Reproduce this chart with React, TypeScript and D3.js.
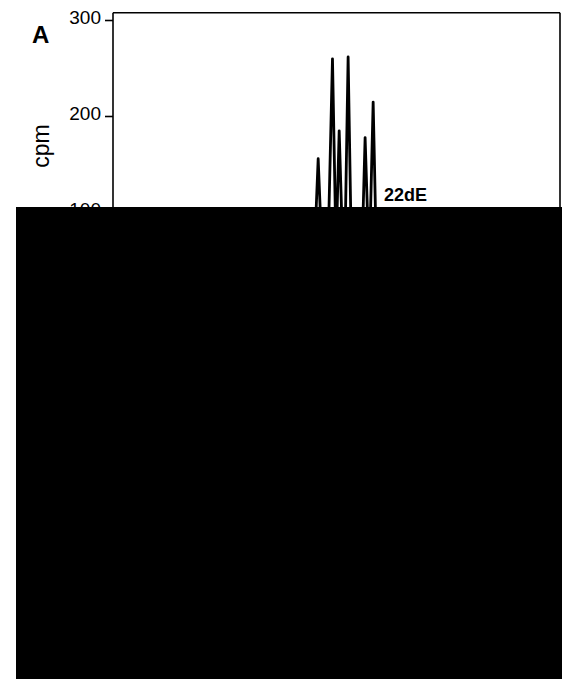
import React from "react";
import * as d3 from "d3";

const yTicks = [100, 200, 300];
const fraction = [0, 44.2, 44.9, 45.9, 46.9, 47.6, 48.0, 49.1, 49.9, 50.6, 51.4, 51.8, 52.6, 53.4, 54.5, 55.6, 56.4, 57.2, 57.4, 58.2, 59.0, 60.0, 100];
const cpm = [5, 8, 40, 156, 40, 20, 40, 260, 60, 185, 60, 40, 262, 40, 15, 40, 178, 60, 60, 215, 40, 10, 5];
const panelLabel = "A";
const seriesLabel = "22dE";
const yLabel = "cpm";

export default function App() {
  const W = 562, H = 679;
  const x = d3.scaleLinear().domain([0, 100]).range([113, 560]);
  const y = d3.scaleLinear().domain([0, 300]).range([308.5, 20.5]);
  const pts: [number, number][] = fraction.map((f, i) => [f, cpm[i]]);
  const line = d3.line<[number, number]>().x(d => x(d[0])).y(d => y(d[1])).curve(d3.curveLinear);
  const top = y(308);
  const font = "'Liberation Sans', Arial, Helvetica, sans-serif";
  return (
    <svg width={W} height={H} style={{ position: "absolute", left: 0, top: 0, display: "block", background: "#fff" }}>
      <rect x={0} y={0} width={W} height={H} fill="#fff" />
      <g stroke="#000" strokeWidth={1.6} fill="none">
        <line x1={x(0)} y1={top} x2={x(0)} y2={H} />
        <line x1={x(0)} y1={top} x2={x(100)} y2={top} />
        <line x1={x(100)} y1={top} x2={x(100)} y2={H} />
        {yTicks.map(t => (
          <line key={t} x1={x(0) - 8} x2={x(0)} y1={y(t)} y2={y(t)} />
        ))}
      </g>
      {yTicks.map(t => (
        <text key={t} x={101} y={y(t) + 3} textAnchor="end" fontFamily={font} fontSize={19} fill="#000">{t}</text>
      ))}
      <text x={32} y={43} fontFamily={font} fontSize={24} fontWeight="bold" fill="#000">{panelLabel}</text>
      <text transform={`translate(49,146) rotate(-90)`} textAnchor="middle" fontFamily={font} fontSize={23} fill="#000">{yLabel}</text>
      <path d={line(pts) || ""} fill="none" stroke="#000" strokeWidth={2.8} strokeLinejoin="round" />
      <text x={384} y={201} fontFamily={font} fontSize={18} fontWeight="bold" fill="#000">{seriesLabel}</text>
      <rect x={16} y={207} width={W - 16} height={H - 207} fill="#000" />
    </svg>
  );
}
